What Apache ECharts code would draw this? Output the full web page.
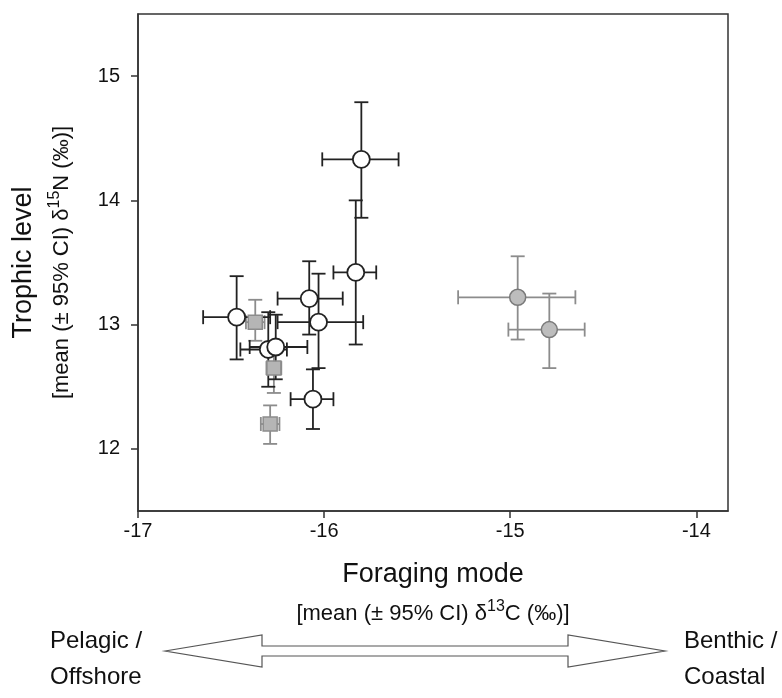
<!DOCTYPE html>
<html><head><meta charset="utf-8">
<script src="https://cdn.jsdelivr.net/npm/echarts@6/dist/echarts.min.js"></script>
<style>html,body{margin:0;padding:0;background:#fff}#c{width:782px;height:698px}</style>
</head><body><div id="c"></div>
<script>
// Open circles (black)
const openX   = [-15.80, -15.83, -16.47, -16.08, -16.03, -16.30, -16.26, -16.06];
const openY   = [ 14.33,  13.42,  13.06,  13.21,  13.02,  12.80,  12.82,  12.40];
const openXLo = [-16.01, -15.95, -16.65, -16.25, -16.25, -16.45, -16.40, -16.18];
const openXHi = [-15.60, -15.72, -16.29, -15.90, -15.79, -16.20, -16.09, -15.95];
const openYLo = [ 13.86,  12.84,  12.72,  12.92,  12.65,  12.50,  12.56,  12.16];
const openYHi = [ 14.79,  14.00,  13.39,  13.51,  13.41,  13.10,  13.08,  12.64];
// Grey squares
const sqX   = [-16.37, -16.27, -16.29];
const sqY   = [ 13.02,  12.65,  12.20];
const sqXLo = [-16.42, -16.31, -16.34];
const sqXHi = [-16.32, -16.23, -16.24];
const sqYLo = [ 12.87,  12.45,  12.04];
const sqYHi = [ 13.20,  12.85,  12.35];
// Grey circles
const gcX   = [-14.96, -14.79];
const gcY   = [ 13.22,  12.96];
const gcXLo = [-15.28, -15.01];
const gcXHi = [-14.65, -14.60];
const gcYLo = [ 12.88,  12.65];
const gcYHi = [ 13.55,  13.25];
// Axis ticks
const xTicks = [-17, -16, -15, -14];
const yTicks = [12, 13, 14, 15];

function rows(x, y, xlo, xhi, ylo, yhi) {
  return x.map((v, i) => [v, y[i], xlo[i], xhi[i], ylo[i], yhi[i]]);
}
function errSeries(data, color) {
  return {
    type: 'custom', data: data, encode: { x: 0, y: 1 }, z: 2,
    renderItem: function (params, api) {
      const c = api.coord([api.value(0), api.value(1)]);
      const l = api.coord([api.value(2), api.value(1)]);
      const r = api.coord([api.value(3), api.value(1)]);
      const b = api.coord([api.value(0), api.value(4)]);
      const t = api.coord([api.value(0), api.value(5)]);
      const cap = 7;
      const st = { stroke: color, lineWidth: 1.8 };
      const ln = (x1, y1, x2, y2) => ({ type: 'line', shape: { x1, y1, x2, y2 }, style: st });
      return { type: 'group', children: [
        ln(l[0], c[1], r[0], c[1]),
        ln(l[0], c[1] - cap, l[0], c[1] + cap),
        ln(r[0], c[1] - cap, r[0], c[1] + cap),
        ln(c[0], b[1], c[0], t[1]),
        ln(c[0] - cap, b[1], c[0] + cap, b[1]),
        ln(c[0] - cap, t[1], c[0] + cap, t[1])
      ]};
    }
  };
}

const chart = echarts.init(document.getElementById('c'));
const font = 'Liberation Sans, Arial, sans-serif';
const gL = 138, gR = 54, gT = 14, gB = 187;
const cx = (gL + (782 - gR)) / 2;
const cy = (gT + (698 - gB)) / 2;

chart.setOption({
  animation: false,
  backgroundColor: '#fff',
  grid: { left: gL, right: gR, top: gT, bottom: gB, show: true, borderColor: '#333', borderWidth: 1.5, backgroundColor: 'transparent' },
  xAxis: {
    type: 'value', min: -17, max: -13.83, splitLine: { show: false },
    axisLine: { show: true, onZero: false, lineStyle: { color: '#333', width: 1.5 } },
    axisTick: { show: true, inside: false, length: 7, customValues: xTicks, lineStyle: { color: '#333', width: 1.5 } },
    axisLabel: { customValues: xTicks, color: '#111', fontSize: 20, fontFamily: font, margin: 10 }
  },
  yAxis: {
    type: 'value', min: 11.5, max: 15.5, splitLine: { show: false },
    axisLine: { show: true, onZero: false, lineStyle: { color: '#333', width: 1.5 } },
    axisTick: { show: true, inside: false, length: 7, customValues: yTicks, lineStyle: { color: '#333', width: 1.5 } },
    axisLabel: { customValues: yTicks, color: '#111', fontSize: 20, fontFamily: font, margin: 18 }
  },
  series: [
    errSeries(rows(gcX, gcY, gcXLo, gcXHi, gcYLo, gcYHi), '#8c8c8c'),
    errSeries(rows(sqX, sqY, sqXLo, sqXHi, sqYLo, sqYHi), '#8c8c8c'),
    errSeries(rows(openX, openY, openXLo, openXHi, openYLo, openYHi), '#222'),
    { type: 'scatter', z: 3, symbol: 'circle', symbolSize: 16,
      itemStyle: { color: '#bdbdbd', borderColor: '#7a7a7a', borderWidth: 1.5, opacity: 1 },
      data: gcX.map((v, i) => [v, gcY[i]]) },
    { type: 'scatter', z: 3, symbol: 'rect', symbolSize: 14,
      itemStyle: { color: '#b5b5b5', borderColor: '#8c8c8c', borderWidth: 1.5, opacity: 1 },
      data: sqX.map((v, i) => [v, sqY[i]]) },
    { type: 'scatter', z: 4, symbol: 'circle', symbolSize: 17,
      itemStyle: { color: '#fff', borderColor: '#222', borderWidth: 1.8, opacity: 1 },
      data: openX.map((v, i) => [v, openY[i]]) }
  ],
  graphic: [
    { type: 'text', x: cx, y: 575, style: { text: 'Foraging mode', font: '27px ' + font, fill: '#111', align: 'center', verticalAlign: 'middle' } },
    { type: 'text', x: cx, y: 614, style: {
        text: '{b|[mean (± 95% CI) δ}{s|13}{b|C (‰)]}', align: 'center', verticalAlign: 'middle',
        rich: { b: { fontSize: 22, fontFamily: font, fill: '#111', lineHeight: 30 },
                s: { fontSize: 16, fontFamily: font, fill: '#111', lineHeight: 16, verticalAlign: 'top' } } } },
    { type: 'text', x: 24, y: cy, rotation: Math.PI / 2, style: { text: 'Trophic level', font: '27px ' + font, fill: '#111', align: 'center', verticalAlign: 'middle' } },
    { type: 'text', x: 62, y: cy, rotation: Math.PI / 2, style: {
        text: '{b|[mean (± 95% CI) δ}{s|15}{b|N (‰)]}', align: 'center', verticalAlign: 'middle',
        rich: { b: { fontSize: 22, fontFamily: font, fill: '#111', lineHeight: 30 },
                s: { fontSize: 16, fontFamily: font, fill: '#111', lineHeight: 16, verticalAlign: 'top' } } } },
    { type: 'text', x: 50, y: 641, style: { text: 'Pelagic /', font: '24px ' + font, fill: '#111', verticalAlign: 'middle' } },
    { type: 'text', x: 50, y: 677, style: { text: 'Offshore', font: '24px ' + font, fill: '#111', verticalAlign: 'middle' } },
    { type: 'text', x: 684, y: 641, style: { text: 'Benthic /', font: '24px ' + font, fill: '#111', verticalAlign: 'middle' } },
    { type: 'text', x: 684, y: 677, style: { text: 'Coastal', font: '24px ' + font, fill: '#111', verticalAlign: 'middle' } },
    { type: 'polygon', shape: { points: [
        [165, 651], [262, 635], [262, 646], [568, 646], [568, 635], [665, 651],
        [568, 667], [568, 656], [262, 656], [262, 667]] },
      style: { fill: '#fff', stroke: '#555', lineWidth: 1.2 } }
  ]
});
</script></body></html>
